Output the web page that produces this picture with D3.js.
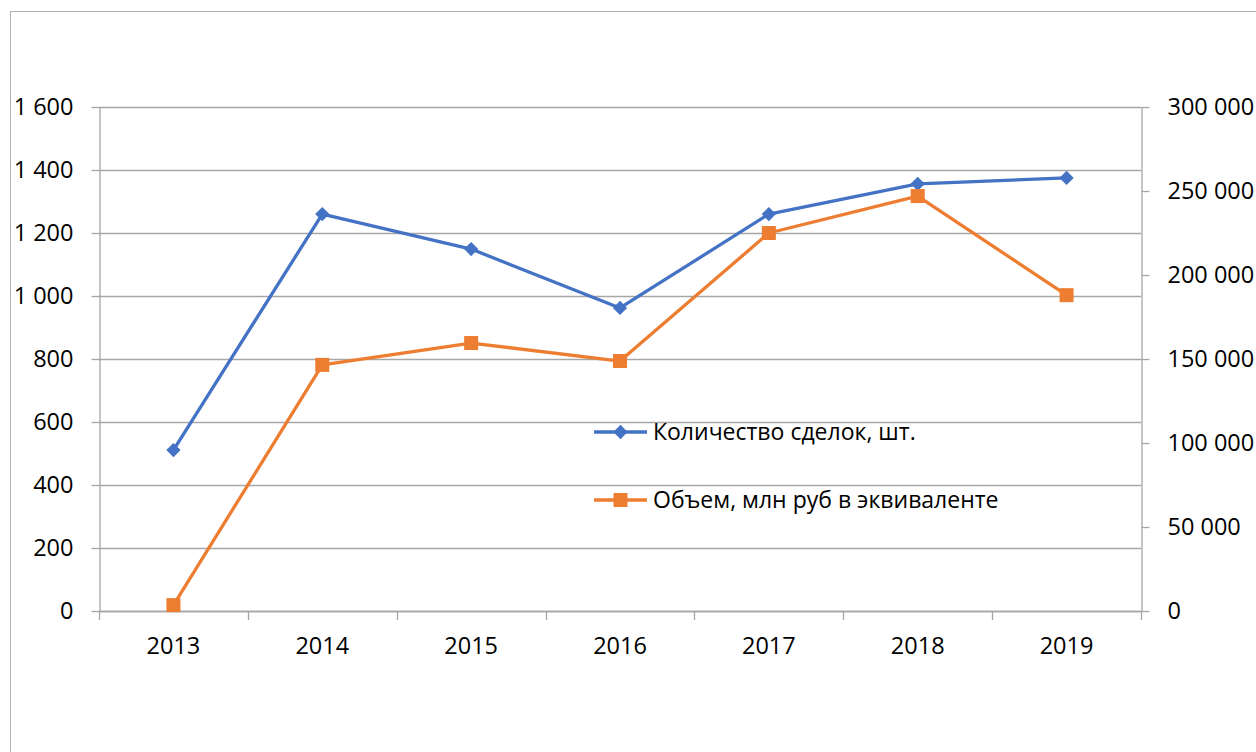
<!DOCTYPE html>
<html>
<head>
<meta charset="utf-8">
<script src="https://cdn.jsdelivr.net/npm/d3@7"></script>
<style>
  body { margin: 0; background: #fff; }
  svg { display: block; font-family: "Open Sans", "Noto Sans", sans-serif; }
</style>
</head>
<body>
<div id="chart"></div>
<script>
// data
var years = ["2013", "2014", "2015", "2016", "2017", "2018", "2019"];
var deals = [511, 1260, 1149, 962, 1260, 1356, 1375];            // left axis
var volume = [3500, 146500, 159500, 148800, 225000, 247000, 188000]; // right axis
var leftTicks = [0, 200, 400, 600, 800, 1000, 1200, 1400, 1600];
var rightTicks = [0, 50000, 100000, 150000, 200000, 250000, 300000];
var seriesNames = ["Количество сделок, шт.", "Объем, млн руб в эквиваленте"];

var W = 1256, H = 752;
var plot = {left: 99, right: 1141, top: 107, bottom: 611};
var blue = "#4472C4", orange = "#ED7D31", grey = "#a6a6a6";

var svg = d3.select("#chart").append("svg")
    .attr("width", W)
    .attr("height", H);

// outer chart frame (runs off the right/bottom edge)
svg.append("rect")
    .attr("x", 10.5).attr("y", 11.5)
    .attr("width", W + 20).attr("height", H + 20)
    .attr("fill", "none")
    .attr("stroke", "#b0b0b0");

var x = d3.scaleBand()
    .domain(years)
    .range([plot.left, plot.right]);

var yL = d3.scaleLinear().domain([0, 1600]).range([plot.bottom, plot.top]);
var yR = d3.scaleLinear().domain([0, 300000]).range([plot.bottom, plot.top]);

var fmt = function(v) { return d3.format(",")(v).replace(/,/g, " "); };

// gridlines
svg.append("g")
    .selectAll("line")
    .data(leftTicks)
    .enter().append("line")
    .attr("x1", plot.left).attr("x2", plot.right)
    .attr("y1", function(d) { return Math.round(yL(d)) + 0.5; })
    .attr("y2", function(d) { return Math.round(yL(d)) + 0.5; })
    .attr("stroke", grey)
    .attr("stroke-width", 1.3);

// left axis
var axL = svg.append("g")
    .attr("transform", "translate(" + (plot.left + 0.5) + ",0)")
    .call(d3.axisLeft(yL).tickValues(leftTicks).tickFormat(fmt).tickSizeInner(8).tickSizeOuter(0).tickPadding(18));

// right axis
var axR = svg.append("g")
    .attr("transform", "translate(" + (plot.right + 0.5) + ",0)")
    .call(d3.axisRight(yR).tickValues(rightTicks).tickFormat(fmt).tickSizeInner(8).tickSizeOuter(0).tickPadding(18));

// bottom axis: ticks between categories
var bounds = years.map(function(d) { return x(d); }).concat([plot.right]);
var axB = svg.append("g");
axB.append("line")
    .attr("x1", plot.left).attr("x2", plot.right)
    .attr("y1", plot.bottom + 0.5).attr("y2", plot.bottom + 0.5)
    .attr("stroke", grey).attr("stroke-width", 1.3);
axB.selectAll("line.tk")
    .data(bounds)
    .enter().append("line")
    .attr("class", "tk")
    .attr("x1", function(d) { return Math.round(d) + 0.5; })
    .attr("x2", function(d) { return Math.round(d) + 0.5; })
    .attr("y1", plot.bottom).attr("y2", plot.bottom + 9)
    .attr("stroke", grey).attr("stroke-width", 1.3);
axB.selectAll("text")
    .data(years)
    .enter().append("text")
    .attr("x", function(d) { return x(d) + x.bandwidth() / 2; })
    .attr("y", plot.bottom + 43)
    .attr("text-anchor", "middle")
    .attr("font-size", 23.5)
    .attr("fill", "#000")
    .text(function(d) { return d; });

[axL, axR].forEach(function(ax) {
    ax.select(".domain").attr("stroke", grey).attr("stroke-width", 1.3);
    ax.selectAll(".tick line").attr("stroke", grey).attr("stroke-width", 1.3);
    ax.selectAll(".tick text").attr("font-size", 23.5).attr("fill", "#000")
        .attr("font-family", "\"Open Sans\", \"Noto Sans\", sans-serif");
});

var cx = function(i) { return x(years[i]) + x.bandwidth() / 2; };

// deals line
svg.append("path")
    .datum(deals)
    .attr("fill", "none")
    .attr("stroke", blue)
    .attr("stroke-width", 3.3)
    .attr("stroke-linejoin", "round")
    .attr("d", d3.line().x(function(d, i) { return cx(i); }).y(function(d) { return yL(d); }));

// volume line
svg.append("path")
    .datum(volume)
    .attr("fill", "none")
    .attr("stroke", orange)
    .attr("stroke-width", 3.3)
    .attr("stroke-linejoin", "round")
    .attr("d", d3.line().x(function(d, i) { return cx(i); }).y(function(d) { return yR(d); }));

var diamond = d3.symbol().type(d3.symbolDiamond2).size(130);

svg.append("g").selectAll("path")
    .data(deals)
    .enter().append("path")
    .attr("d", diamond)
    .attr("transform", function(d, i) { return "translate(" + cx(i) + "," + yL(d) + ")"; })
    .attr("fill", blue);

svg.append("g").selectAll("rect")
    .data(volume)
    .enter().append("rect")
    .attr("x", function(d, i) { return cx(i) - 7; })
    .attr("y", function(d) { return yR(d) - 7; })
    .attr("width", 14).attr("height", 14)
    .attr("fill", orange);

// legend
var legend = svg.append("g");
var legY = [432, 500];
var legCol = [blue, orange];
seriesNames.forEach(function(name, i) {
    var g = legend.append("g").attr("transform", "translate(594," + legY[i] + ")");
    g.append("line").attr("x1", 0).attr("x2", 53).attr("y1", 0).attr("y2", 0)
        .attr("stroke", legCol[i]).attr("stroke-width", 3.3);
    if (i === 0) {
        g.append("path").attr("d", diamond).attr("transform", "translate(26.5,0)").attr("fill", blue);
    } else {
        g.append("rect").attr("x", 19.5).attr("y", -7).attr("width", 14).attr("height", 14).attr("fill", orange);
    }
    g.append("text")
        .attr("x", 59).attr("y", 0).attr("dy", "0.35em")
        .attr("font-size", 23)
        .attr("fill", "#000")
        .text(name);
});
</script>
</body>
</html>
